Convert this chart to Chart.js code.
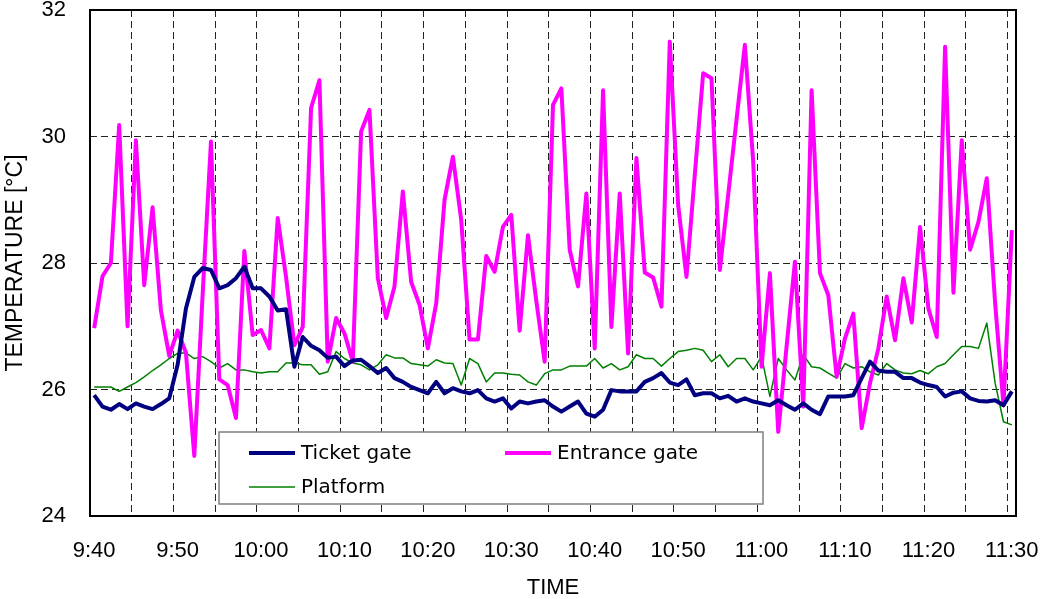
<!DOCTYPE html>
<html>
<head>
<meta charset="utf-8">
<script src="https://cdn.jsdelivr.net/npm/chart.js@4.4.1/dist/chart.umd.min.js"></script>
<style>
html,body{margin:0;padding:0;background:#fff;}
#wrap{width:1044px;height:599px;position:relative;}
</style>
</head>
<body>
<div id="wrap"><canvas id="c" width="1044" height="599"></canvas></div>
<script>
// ---- categories: one reading per minute from 9:40 to 11:30 ----
const startMinute = 9 * 60 + 40;
const categoryCount = 111;
const categories = [];
for (let i = 0; i < categoryCount; i++) {
  const m = startMinute + i;
  categories.push(Math.floor(m / 60) + ':' + String(m % 60).padStart(2, '0'));
}

// ---- tick labels (every 10 minutes) ----
const tickLabels = ['9:40','9:50','10:00','10:10','10:20','10:30','10:40','10:50','11:00','11:10','11:20','11:30'];

// ---- series values (°C) ----
const ticketGate = [
25.91,25.73,25.68,25.77,25.69,25.78,25.73,25.69,25.77,25.86,
26.39,27.28,27.78,27.92,27.89,27.60,27.65,27.76,27.94,27.60,
27.60,27.47,27.25,27.27,26.36,26.83,26.69,26.62,26.50,26.52,
26.37,26.46,26.47,26.37,26.26,26.34,26.18,26.12,26.04,25.99,
25.94,26.12,25.94,26.02,25.97,25.94,25.99,25.86,25.81,25.86,
25.70,25.81,25.78,25.81,25.83,25.73,25.65,25.73,25.81,25.62,
25.57,25.68,25.99,25.97,25.97,25.97,26.12,26.18,26.26,26.11,
26.07,26.16,25.91,25.94,25.94,25.86,25.90,25.81,25.86,25.81,
25.78,25.75,25.83,25.75,25.68,25.78,25.68,25.61,25.89,25.89,
25.89,25.91,26.18,26.44,26.30,26.28,26.28,26.18,26.18,26.11,
26.07,26.04,25.89,25.95,25.97,25.86,25.82,25.81,25.83,25.75,
25.97
];
const entranceGate = [
26.97,27.79,28.00,30.18,27.00,29.94,27.65,28.88,27.25,26.53,
26.93,26.58,24.95,27.50,29.92,26.16,26.07,25.55,28.19,26.86,
26.94,26.65,28.71,27.78,26.70,26.99,30.45,30.89,26.44,27.13,
26.89,26.44,30.08,30.42,27.76,27.13,27.63,29.13,27.70,27.34,
26.65,27.36,29.00,29.68,28.68,26.79,26.79,28.11,27.86,28.57,
28.76,26.93,28.44,27.40,26.44,30.50,30.76,28.21,27.63,29.10,
26.65,30.73,26.99,29.10,26.57,29.66,27.85,27.77,27.31,31.50,
28.92,27.78,29.40,31.00,30.92,27.89,29.08,30.27,31.45,29.60,
26.36,27.84,25.33,26.68,28.02,25.73,30.73,27.84,27.49,26.20,
26.81,27.20,25.39,26.10,26.65,27.47,26.78,27.76,27.06,28.57,
27.28,26.83,31.42,27.53,29.94,28.21,28.65,29.34,27.36,25.75,
28.52
];
const platform = [
26.04,26.04,26.04,25.97,26.04,26.11,26.20,26.30,26.39,26.49,
26.57,26.58,26.49,26.52,26.44,26.34,26.41,26.31,26.31,26.28,
26.26,26.28,26.28,26.42,26.42,26.39,26.39,26.24,26.28,26.60,
26.49,26.42,26.39,26.31,26.39,26.55,26.50,26.50,26.41,26.39,
26.37,26.47,26.42,26.41,26.07,26.49,26.41,26.12,26.26,26.26,
26.24,26.23,26.12,26.07,26.25,26.31,26.31,26.37,26.37,26.37,
26.49,26.34,26.41,26.31,26.36,26.55,26.49,26.49,26.37,26.49,
26.60,26.62,26.65,26.62,26.44,26.55,26.36,26.49,26.49,26.31,
26.52,25.89,26.49,26.31,26.15,26.55,26.36,26.34,26.26,26.18,
26.41,26.34,26.36,26.28,26.23,26.41,26.31,26.26,26.25,26.30,
26.25,26.36,26.41,26.55,26.68,26.68,26.65,27.05,26.10,25.49,
25.44
];

const seriesNames = ['Ticket gate', 'Entrance gate', 'Platform'];

// ---- plugins ----
const framePlugin = {
  id: 'frame',
  afterDatasetsDraw(chart) {
    const {ctx, chartArea: a} = chart;
    ctx.save();
    ctx.strokeStyle = '#000';
    ctx.lineWidth = 2;
    ctx.strokeRect(a.left, a.top, a.right - a.left, a.bottom - a.top);
    ctx.restore();
  }
};

const boxLegend = {
  id: 'boxLegend',
  afterDatasetsDraw(chart) {
    const o = chart.options.plugins.boxLegend;
    const ctx = chart.ctx;
    ctx.save();
    ctx.fillStyle = '#fff';
    ctx.fillRect(o.x, o.y, o.w, o.h);
    ctx.strokeStyle = '#7f7f7f';
    ctx.lineWidth = 1.5;
    ctx.strokeRect(o.x, o.y, o.w, o.h);
    o.items.forEach(it => {
      const ds = chart.data.datasets[it.ds];
      ctx.strokeStyle = ds.borderColor;
      ctx.lineWidth = ds.borderWidth;
      ctx.beginPath();
      ctx.moveTo(it.x, it.y);
      ctx.lineTo(it.x + o.sample, it.y);
      ctx.stroke();
      ctx.fillStyle = '#000';
      ctx.font = o.font;
      ctx.textBaseline = 'middle';
      ctx.textAlign = 'left';
      ctx.fillText(ds.label, it.x + o.sample + 6, it.y + 1);
    });
    ctx.restore();
  }
};

const gridDash = [7, 4];
const axisFont = { family: '"Liberation Sans", Arial, sans-serif', size: 22 };

new Chart(document.getElementById('c'), {
  type: 'line',
  data: {
    labels: categories,
    datasets: [
      { label: seriesNames[0], data: ticketGate, borderColor: '#000080', borderWidth: 4, pointRadius: 0, tension: 0, borderJoinStyle: 'round' },
      { label: seriesNames[1], data: entranceGate, borderColor: '#ff00ff', borderWidth: 4, pointRadius: 0, tension: 0, borderJoinStyle: 'round' },
      { label: seriesNames[2], data: platform, borderColor: '#008000', borderWidth: 1.5, pointRadius: 0, tension: 0, borderJoinStyle: 'round' }
    ]
  },
  options: {
    responsive: false,
    animation: false,
    devicePixelRatio: 1,
    layout: { padding: { top: 10, right: 28, left: 0, bottom: 0 } },
    plugins: {
      legend: { display: false },
      tooltip: { enabled: false },
      boxLegend: {
        x: 219, y: 432, w: 544, h: 72, sample: 46,
        font: '20px "DejaVu Sans"',
        items: [ {ds: 0, x: 249, y: 453}, {ds: 1, x: 505, y: 453}, {ds: 2, x: 249, y: 487} ]
      }
    },
    scales: {
      x: {
        type: 'category',
        offset: true,
        border: { display: false, dash: gridDash },
        grid: {
          offset: true,
          drawTicks: false,
          lineWidth: 1,
          color: c => (c.index % 5 === 0 && c.index > 0 && c.index < categoryCount) ? '#222' : 'rgba(0,0,0,0)'
        },
        ticks: {
          autoSkip: false,
          maxRotation: 0,
          minRotation: 0,
          padding: 22,
          color: '#000',
          font: axisFont,
          callback: (v, i) => (i % 10 === 0 ? tickLabels[i / 10] : '')
        },
        title: {
          display: true,
          text: 'TIME',
          color: '#000',
          font: { family: axisFont.family, size: 22, lineHeight: 1 },
          padding: { top: 1.5, bottom: 0 }
        },
        afterFit: s => { s.height = 83; s.paddingLeft = 0; s.paddingRight = 0; }
      },
      y: {
        min: 24,
        max: 32,
        border: { display: false, dash: gridDash },
        grid: {
          drawTicks: false,
          lineWidth: 1,
          color: c => (c.tick && c.tick.value > 24 && c.tick.value < 32) ? '#222' : 'rgba(0,0,0,0)'
        },
        ticks: {
          stepSize: 2,
          padding: 24,
          color: '#000',
          font: axisFont
        },
        title: {
          display: true,
          text: 'TEMPERATURE [\u00B0C]',
          color: '#000',
          font: { family: axisFont.family, size: 23, lineHeight: 1 },
          padding: { top: 4, bottom: 0 }
        },
        afterFit: s => { s.width = 90; s.paddingTop = 0; s.paddingBottom = 0; }
      }
    }
  },
  plugins: [framePlugin, boxLegend]
});
</script>
</body>
</html>
